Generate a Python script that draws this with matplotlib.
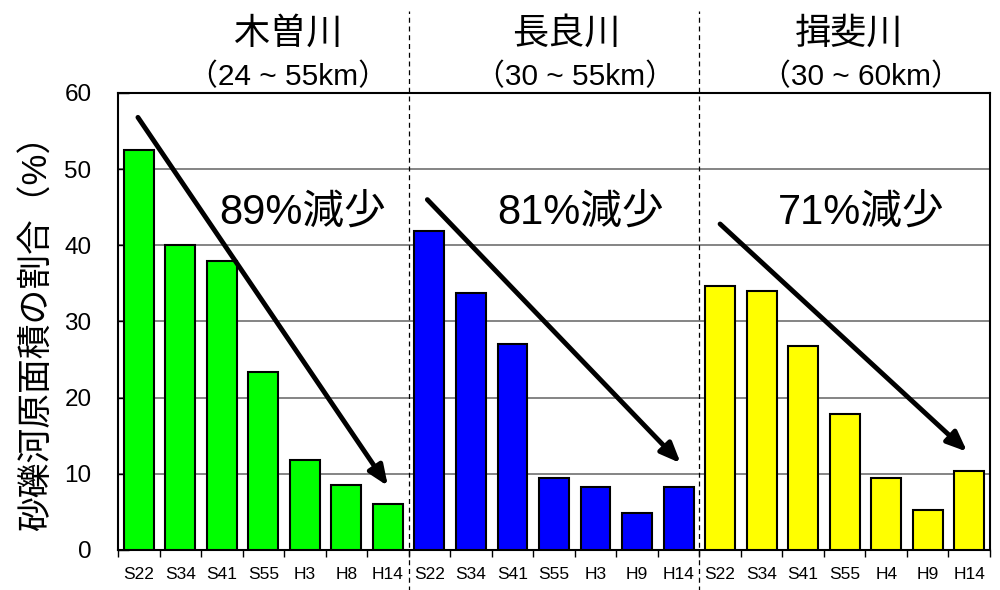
import matplotlib
matplotlib.use("Agg")
import matplotlib.pyplot as plt
import matplotlib.transforms as mtransforms

plt.rcParams['font.family'] = ['Liberation Sans', 'Noto Sans CJK JP']

rivers = ['木曽川', '長良川', '揖斐川']
ranges = ['（24 ~ 55km）', '（30 ~ 55km）', '（30 ~ 60km）']
years_kiso = ['S22', 'S34', 'S41', 'S55', 'H3', 'H8', 'H14']
years_nagara = ['S22', 'S34', 'S41', 'S55', 'H3', 'H9', 'H14']
years_ibi = ['S22', 'S34', 'S41', 'S55', 'H4', 'H9', 'H14']
vals_kiso = [52.5, 40.0, 38.0, 23.4, 11.8, 8.5, 6.0]
vals_nagara = [41.9, 33.8, 27.1, 9.4, 8.3, 4.8, 8.3]
vals_ibi = [34.7, 34.0, 26.8, 17.8, 9.4, 5.3, 10.4]
reductions = ['89%減少', '81%減少', '71%減少']
colors = ['#00FF00', '#0000FF', '#FFFF00']

groups = [(years_kiso, vals_kiso), (years_nagara, vals_nagara), (years_ibi, vals_ibi)]

fig = plt.figure(figsize=(10, 5.9), dpi=100)
ax = fig.add_axes([0.118, 0.0678, 0.872, 0.7746])

labels = []
for g, (yrs, vals) in enumerate(groups):
    xs = [g * 7 + i for i in range(len(vals))]
    ax.bar(xs, vals, width=0.72, color=colors[g], edgecolor='black',
           linewidth=1.5, zorder=3)
    labels += yrs

n = len(labels)
ax.set_xlim(-0.5, n - 0.5)
ax.set_ylim(0, 60)
ax.set_yticks(range(0, 61, 10))
ax.tick_params(axis='y', direction='in', length=8, width=1, labelsize=17.5, pad=19)
ax.set_xticks(range(n))
ax.set_xticklabels(labels, fontsize=12.5)
ax.set_xticks([i - 0.5 for i in range(n + 1)], minor=True)
ax.tick_params(axis='x', which='major', length=0, pad=12)
ax.tick_params(axis='x', which='minor', direction='out', length=5, width=1)
for y in range(10, 60, 10):
    ax.axhline(y, color='#707070', linewidth=1.2, zorder=1)
for s in ax.spines.values():
    s.set_linewidth(1.5)
    s.set_color('black')

ax.set_ylabel('砂礫河原面積の割合（%）', fontsize=25)
ax.yaxis.set_label_coords(-0.074, 0.493)

# separators between the river groups
trans = mtransforms.blended_transform_factory(ax.transData, ax.transAxes)
for xsep in [6.5, 13.5]:
    ax.plot([xsep, xsep], [-0.09, 1.18], transform=trans, color='black',
            linestyle=(0, (4, 3)), linewidth=0.9, clip_on=False, zorder=5)

# river names and ranges
title_x = [3.6, 10.3, 17.1]
range_x = [3.6, 10.5, 17.4]
for g in range(3):
    ax.text(title_x[g], 1.128, rivers[g], transform=trans, ha='center',
            va='center', fontsize=26)
    ax.text(range_x[g], 1.035, ranges[g], transform=trans, ha='center',
            va='center', fontsize=21.5)

# decrease arrows
arrows = [((-0.02, 56.8), (6.0, 8.4)),
          ((6.95, 46.0), (13.05, 11.4)),
          ((14.0, 42.8), (19.95, 12.9))]
for start, end in arrows:
    ax.annotate('', xy=end, xytext=start,
                arrowprops=dict(arrowstyle='-|>,head_length=1.2,head_width=0.5',
                                color='black', lw=3.5, shrinkA=0, shrinkB=0),
                zorder=6)

text_pos = [(3.95, 44.3), (10.65, 44.3), (17.4, 44.3)]
for (tx, ty), t in zip(text_pos, reductions):
    ax.text(tx, ty, t, ha='center', va='center', fontsize=30, zorder=7)

fig.savefig('out.png', dpi=100)
